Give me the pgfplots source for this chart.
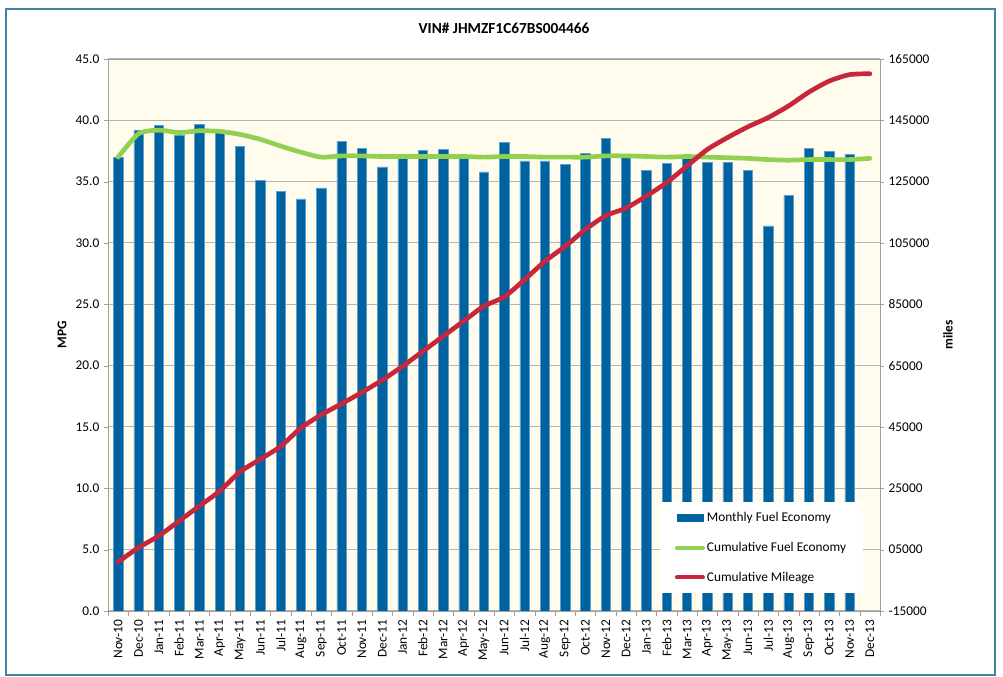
\documentclass[border=0pt]{standalone}
\usepackage{fontspec}
\setmainfont{Carlito}
\usepackage{pgfplots}
\usepackage{pgfplotstable}
\pgfplotsset{compat=1.18}
\definecolor{barblue}{RGB}{0,99,160}
\definecolor{baredge}{RGB}{90,160,210}
\definecolor{cumgreen}{RGB}{146,208,80}
\definecolor{cumred}{RGB}{200,38,58}
\definecolor{cream}{RGB}{255,252,238}
\definecolor{framec}{RGB}{66,130,165}
\definecolor{gridc}{RGB}{180,180,180}
\definecolor{axisc}{RGB}{160,160,160}

\pgfplotstableread{
x mpg
0 37.0
1 39.2
2 39.6
3 38.8
4 39.7
5 39.0
6 37.9
7 35.1
8 34.2
9 33.6
10 34.5
11 38.3
12 37.7
13 36.2
14 36.9
15 37.55
16 37.6
17 37.0
18 35.8
19 38.2
20 36.7
21 36.7
22 36.4
23 37.3
24 38.5
25 37.0
26 35.9
27 36.5
28 36.9
29 36.6
30 36.6
31 35.9
32 31.4
33 33.9
34 37.7
35 37.45
36 37.25
}\bars

\pgfplotstableread{
x cum
0 37.0
1 38.9
2 39.2
3 39.0
4 39.15
5 39.1
6 38.85
7 38.45
8 37.9
9 37.4
10 37.0
11 37.1
12 37.1
13 37.05
14 37.05
15 37.05
16 37.05
17 37.05
18 37.0
19 37.05
20 37.05
21 37.0
22 37.0
23 37.0
24 37.1
25 37.1
26 37.05
27 37.0
28 37.05
29 37.0
30 36.95
31 36.9
32 36.8
33 36.75
34 36.8
35 36.8
36 36.8
37 36.9
}\green

\pgfplotstableread{
x miles
0 1000
1 5650
2 9500
3 14350
4 19250
5 24100
6 30400
7 34500
8 38700
9 44700
10 49000
11 52600
12 56300
13 60300
14 64800
15 69700
16 74600
17 79500
18 84400
19 87400
20 93000
21 99000
22 103900
23 109400
24 113900
25 116400
26 120300
27 124700
28 130100
29 135500
30 139400
31 142900
32 145900
33 149700
34 154200
35 157800
36 159900
37 160200
}\red

\begin{document}
\begin{tikzpicture}
\useasboundingbox (-81pt,-49.5pt) rectangle (671.25pt,458.25pt);
\fill[white] (-81pt,-49.5pt) rectangle (671.25pt,458.25pt);
\draw[framec, line width=1.5pt] (-76.5pt,-48pt) rectangle (665.25pt,451.5pt);

\begin{axis}[
  at={(0pt,0pt)}, anchor=south west,
  scale only axis, width=579pt, height=414pt,
  xmin=-0.5, xmax=37.5, ymin=0, ymax=45,
  axis background/.style={fill=cream},
  axis line style={axisc},
  xtick={0,...,37},
  xticklabels={Nov-10,Dec-10,Jan-11,Feb-11,Mar-11,Apr-11,May-11,Jun-11,Jul-11,Aug-11,Sep-11,Oct-11,Nov-11,Dec-11,Jan-12,Feb-12,Mar-12,Apr-12,May-12,Jun-12,Jul-12,Aug-12,Sep-12,Oct-12,Nov-12,Dec-12,Jan-13,Feb-13,Mar-13,Apr-13,May-13,Jun-13,Jul-13,Aug-13,Sep-13,Oct-13,Nov-13,Dec-13},
  major x tick style={draw=none},
  minor xtick={-0.5,0.5,...,37.5},
  minor x tick style={axisc},
  minor tick length=4pt,
  xticklabel style={rotate=90, anchor=east},
  xtick pos=left, ytick pos=left,
  ytick={0,5,...,45},
  yticklabel style={/pgf/number format/.cd, fixed, fixed zerofill, precision=1},
  /pgf/number format/assume math mode=true,
  ymajorgrids, major grid style={gridc, line width=0.75pt},
  y tick style={axisc},
  tick align=outside, major tick length=3pt,
  tick label style={font=\fontsize{10}{12}\selectfont},
]
\addplot[ybar, bar width=7pt, fill=barblue, draw=baredge, line width=0.4pt] table[x=x,y=mpg]{\bars};
\addplot[cumgreen, line width=3.5pt, smooth, tension=0.4, line cap=round, line join=round] table[x=x,y=cum]{\green};
\end{axis}

\begin{axis}[
  at={(0pt,0pt)}, anchor=south west,
  scale only axis, width=579pt, height=414pt,
  xmin=-0.5, xmax=37.5, ymin=-15000, ymax=165000,
  axis x line=none, axis y line*=right,
  axis line style={axisc},
  ytick={-15000,5000,25000,45000,65000,85000,105000,125000,145000,165000},
  yticklabels={-15000,05000,25000,45000,65000,85000,105000,125000,145000,165000},
  y tick style={axisc},
  tick align=outside, major tick length=3pt,
  tick label style={font=\fontsize{10}{12}\selectfont},
  scaled y ticks=false,
  legend cell align=left,
  legend style={at={(0.715,0.198)}, anchor=north west, draw=none, fill=white,
    font=\fontsize{10}{12}\selectfont, row sep=10pt, inner xsep=11pt, inner ysep=5.5pt,
    nodes={inner xsep=1.5pt}},
]
\addlegendimage{legend image code/.code={\fill[barblue] (0pt,-2.5pt) rectangle (19.5pt,2.5pt);}}
\addlegendentry{Monthly Fuel Economy}
\addlegendimage{legend image code/.code={\draw[cumgreen, line width=3pt, line cap=round] (0pt,0pt) -- (19.5pt,0pt);}}
\addlegendentry{Cumulative Fuel Economy}
\addlegendimage{legend image code/.code={\draw[cumred, line width=3pt, line cap=round] (0pt,0pt) -- (19.5pt,0pt);}}
\addlegendentry{Cumulative Mileage}
\addplot[cumred, line width=3.5pt, smooth, tension=0.4, line cap=round, line join=round, forget plot] table[x=x,y=miles]{\red};
\end{axis}

\node[font=\fontsize{11.5}{14}\selectfont\bfseries] at (297pt,437.25pt) {VIN\# JHMZF1C67BS004466};
\node[rotate=90, font=\fontsize{10}{12}\selectfont\bfseries] at (-34.5pt,207pt) {MPG};
\node[rotate=90, font=\fontsize{10}{12}\selectfont\bfseries] at (630pt,207pt) {miles};
\end{tikzpicture}
\end{document}
